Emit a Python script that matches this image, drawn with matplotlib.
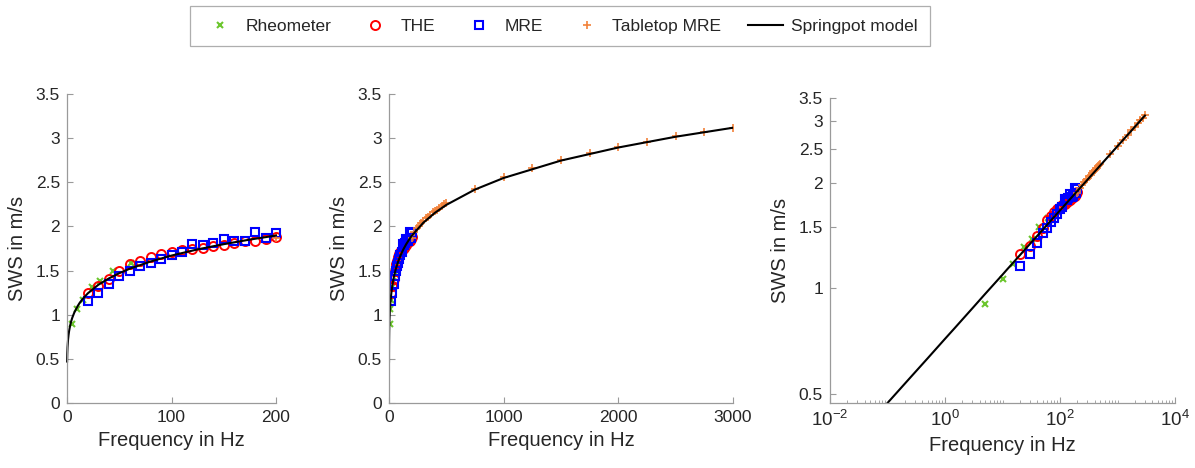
import matplotlib
matplotlib.use("Agg")
import matplotlib.pyplot as plt
from matplotlib.lines import Line2D
from matplotlib.ticker import LogLocator, NullLocator, NullFormatter

plt.rcParams["font.family"] = ["Liberation Sans", "DejaVu Sans"]
plt.rcParams["mathtext.default"] = "regular"

# Rheometer (green x)
rheo_f = [5, 10, 15, 24, 32, 44, 61]
rheo_v = [0.90, 1.06, 1.17, 1.31, 1.38, 1.50, 1.59]

# THE (red circles)
the_f = [20, 30, 40, 50, 60, 70, 80, 90, 100, 110, 120, 130, 140, 150, 160, 170, 180, 190, 200]
the_v = [1.25, 1.32, 1.41, 1.49, 1.57, 1.61, 1.65, 1.69, 1.71, 1.73, 1.74, 1.76, 1.78, 1.79,
         1.81, 1.83, 1.84, 1.86, 1.88]

# MRE (blue squares)
mre_f = [20, 30, 40, 50, 60, 70, 80, 90, 100, 110, 120, 130, 140, 150, 160, 170, 180, 190, 200]
mre_v = [1.16, 1.25, 1.35, 1.44, 1.49, 1.55, 1.59, 1.63, 1.68, 1.71, 1.80, 1.79, 1.81, 1.86,
         1.83, 1.84, 1.94, 1.87, 1.92]

# Tabletop MRE (orange +)
tab_f = [200, 220, 240, 260, 280, 300, 320, 340, 360, 380, 400, 420, 440, 460, 480, 500,
         750, 1000, 1250, 1500, 1750, 2000, 2250, 2500, 2750, 3000]
tab_v = [1.87, 1.94, 1.98, 2.01, 2.04, 2.06, 2.09, 2.11, 2.13, 2.16, 2.18, 2.19, 2.21, 2.23,
         2.25, 2.26, 2.42, 2.56, 2.66, 2.75, 2.83, 2.90, 2.96, 3.02, 3.07, 3.12]

# Springpot model curve
model_f = [0.1, 0.25, 0.5, 1, 1.5, 2, 3, 4, 5, 7, 10, 12, 15, 20, 30, 40, 50, 60, 80, 100,
           125, 150, 175, 200, 300, 400, 500, 750, 1000, 1500, 2000, 2500, 3000]
model_v = [0.470, 0.556, 0.631, 0.717, 0.772, 0.814, 0.877, 0.925, 0.964, 1.025, 1.094, 1.132,
           1.179, 1.243, 1.339, 1.411, 1.470, 1.521, 1.603, 1.670, 1.740, 1.799, 1.851, 1.897,
           2.043, 2.154, 2.244, 2.418, 2.549, 2.746, 2.894, 3.016, 3.118]

W, H = 1195, 468
AX_COLOR = "#9a9a9a"
TXT_COLOR = "#262626"

STYLES = {
    "rheo": dict(ls="none", marker="x", ms=4, mew=1.5, color="#6cc62e"),
    "the": dict(ls="none", marker="o", ms=6.5, mew=1.4, mfc="none", mec="#ff0000"),
    "mre": dict(ls="none", marker="s", ms=5.8, mew=1.5, mfc="none", mec="#0000ff"),
    "tab": dict(ls="none", marker="+", ms=5.5, mew=1.2, color="#f2823a"),
    "model": dict(ls="-", lw=1.5, color="black"),
}


def px_axes(fig, left, top, right, bottom):
    """Add axes from pixel coordinates of the reference"""
    return fig.add_axes([left / W, 1 - bottom / H, (right - left) / W, (bottom - top) / H])


def subset(f, v, fmax):
    """Keep only points up to fmax"""
    pairs = [(a, b) for a, b in zip(f, v) if a <= fmax]
    return [p[0] for p in pairs], [p[1] for p in pairs]


def draw_data(ax, fmax, clip=True):
    for key, (f, v) in [("rheo", (rheo_f, rheo_v)), ("the", (the_f, the_v)),
                        ("mre", (mre_f, mre_v)), ("tab", (tab_f, tab_v)),
                        ("model", (model_f, model_v))]:
        fs, vs = subset(f, v, fmax)
        ax.plot(fs, vs, clip_on=clip, **STYLES[key])


def style_axes(ax):
    for side in ["top", "right"]:
        ax.spines[side].set_visible(False)
    for side in ["left", "bottom"]:
        ax.spines[side].set_color(AX_COLOR)
        ax.spines[side].set_linewidth(0.9)
    ax.tick_params(which="both", direction="in", color=AX_COLOR, labelcolor=TXT_COLOR,
                   labelsize=12.5, pad=5)
    ax.tick_params(which="major", length=4)
    ax.tick_params(which="minor", length=2.5)
    ax.set_xlabel("Frequency in Hz", fontsize=14.5, color=TXT_COLOR, labelpad=4)
    ax.set_ylabel("SWS in m/s", fontsize=14.5, color=TXT_COLOR, labelpad=6)


fig = plt.figure(figsize=(W / 100, H / 100), dpi=100)

# panel 1: linear, 0-200 Hz
ax1 = px_axes(fig, 67, 94, 276, 403)
draw_data(ax1, 200, clip=False)
ax1.set_xlim(0, 200)
ax1.set_ylim(0, 3.5)
ax1.set_xticks([0, 100, 200])
ax1.set_yticks([0, 0.5, 1, 1.5, 2, 2.5, 3, 3.5])
ax1.set_yticklabels(["0", "0.5", "1", "1.5", "2", "2.5", "3", "3.5"])
style_axes(ax1)

# panel 2: linear, 0-3000 Hz
ax2 = px_axes(fig, 389, 94, 733, 403)
draw_data(ax2, 3000)
ax2.set_xlim(0, 3000)
ax2.set_ylim(0, 3.5)
ax2.set_xticks([0, 1000, 2000, 3000])
ax2.set_yticks([0, 0.5, 1, 1.5, 2, 2.5, 3, 3.5])
ax2.set_yticklabels(["0", "0.5", "1", "1.5", "2", "2.5", "3", "3.5"])
style_axes(ax2)

# panel 3: log-log
ax3 = px_axes(fig, 830, 98, 1175, 403)
ax3.set_xscale("log")
ax3.set_yscale("log")
draw_data(ax3, 3000)
ax3.set_xlim(1e-2, 1e4)
ax3.set_ylim(0.47, 3.5)
ax3.set_xticks([1e-2, 1e0, 1e2, 1e4])
ax3.set_xticklabels(["$10^{-2}$", "$10^{0}$", "$10^{2}$", "$10^{4}$"])
ax3.xaxis.set_minor_locator(LogLocator(base=10, subs=range(1, 10), numticks=30))
ax3.xaxis.set_minor_formatter(NullFormatter())
ax3.set_yticks([0.5, 1, 1.5, 2, 2.5, 3, 3.5])
ax3.set_yticklabels(["0.5", "1", "1.5", "2", "2.5", "3", "3.5"])
ax3.yaxis.set_minor_locator(NullLocator())
style_axes(ax3)
ax3.tick_params(axis="x", labelsize=13.5)

# legend across the top
handles = [Line2D([], [], **STYLES["rheo"]), Line2D([], [], **STYLES["the"]),
           Line2D([], [], **STYLES["mre"]), Line2D([], [], **STYLES["tab"]),
           Line2D([], [], **STYLES["model"])]
labels = ["Rheometer", "THE", "MRE", "Tabletop MRE", "Springpot model"]
leg = fig.legend(handles, labels, loc="center", bbox_to_anchor=(560 / W, 1 - 26 / H), ncol=5,
                 fontsize=12.5, frameon=True, fancybox=False, handlelength=2.0,
                 handletextpad=0.45, columnspacing=1.55, borderpad=0.7)
leg.get_frame().set_edgecolor(AX_COLOR)
leg.get_frame().set_linewidth(0.9)
for t in leg.get_texts():
    t.set_color(TXT_COLOR)

fig.savefig("out.png", dpi=100)
